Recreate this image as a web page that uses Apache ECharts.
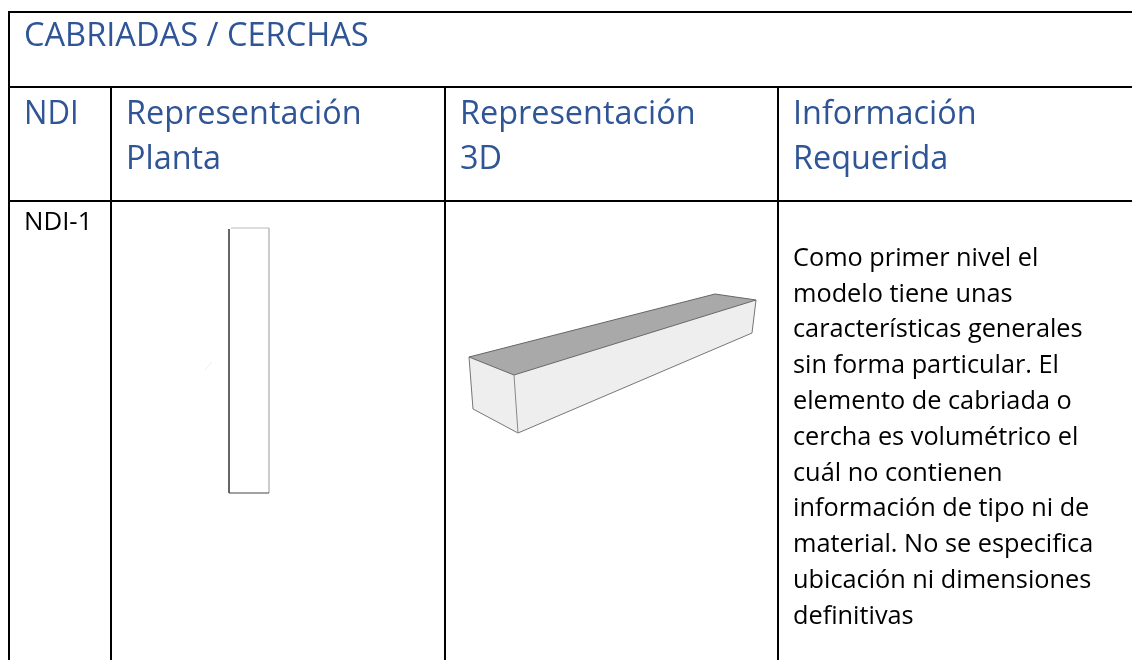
<!DOCTYPE html>
<html><head><meta charset="utf-8">
<style>html,body{margin:0;padding:0;background:#fff}#c{width:1132px;height:660px}</style>
<script src="https://cdn.jsdelivr.net/npm/echarts@6/dist/echarts.min.js"></script>
</head><body><div id="c"></div>
<script>
const tableTitle = 'CABRIADAS / CERCHAS';
const columnHeaders = [['NDI'], ['Representación', 'Planta'], ['Representación', '3D'], ['Información', 'Requerida']];
const rowLabels = ['NDI-1'];
const description = ['Como primer nivel el','modelo tiene unas','características generales','sin forma particular. El','elemento de cabriada o','cercha es volumétrico el','cuál no contienen','información de tipo ni de','material. No se especifica','ubicación ni dimensiones','definitivas'];

const FONT = '"Open Sans", sans-serif';
const BLUE = '#2f5597', INK = '#000';
const L = 9, R = 1132, T = 12, B = 660, R1 = 87, R2 = 201;
const cols = [L, 111, 445, 778];
const g = [];
const line = (x1,y1,x2,y2,stroke='#000',lineWidth=2) => g.push({type:'line',shape:{x1,y1,x2,y2},style:{stroke,lineWidth}});
const poly = (points,fill) => g.push({type:'polygon',shape:{points},style:{fill}});
const pl = (points,stroke,lineWidth=1) => g.push({type:'polyline',shape:{points},style:{stroke,lineWidth,fill:null}});
const text = (s,x,y,size,fill,scaleX=1) => g.push({type:'text',x,y,scaleX,style:{text:s,font:`${size}px ${FONT}`,fill,textVerticalAlign:'middle',verticalAlign:'middle'}});

// table grid
line(L-1,T,R,T); line(L-1,R1,R,R1); line(L-1,R2,R,R2);
cols.forEach(x=>line(x,x===L?T:R1,x,B));

// headers
text(tableTitle,24,37,32.6,BLUE);
columnHeaders.forEach((h,i)=>h.forEach((s,j)=>text(s,cols[i]+15,114.5+j*45.5,32.4,BLUE,i===0?0.96:1)));
text(rowLabels[0],24,222.5,25.8,INK);
description.forEach((s,i)=>text(s,793,258.5+i*35.8,25.3,INK));

// plan view
poly([[229,228],[269,228],[269,493],[229,493]],'#fff');
pl([[231,228],[269,228]],'#bbb',1);
pl([[269,228],[269,493]],'#bbb',1.5);
pl([[229,229],[229,493]],'#666',2);
pl([[229,493],[269,493]],'#444',1);
pl([[205,370],[212,362]],'#eee',1);

// 3D view
const A=[469,357],Bb=[715,294],C=[756,300],D=[514,375],E=[473,409],F=[518,433],G=[752,333];
poly([A,Bb,C,D],'#a9a9a9');
poly([A,D,F,E],'#eeeeee');
poly([D,C,G,F],'#eeeeee');
pl([A,Bb,C,D,A],'#666',1);
pl([A,E,F,G,C],'#777',1);
pl([D,F],'#888',1);

const chart = echarts.init(document.getElementById('c'),null,{renderer:'canvas'});
chart.setOption({animation:false,backgroundColor:'#fff',graphic:{elements:g}});
</script></body></html>
